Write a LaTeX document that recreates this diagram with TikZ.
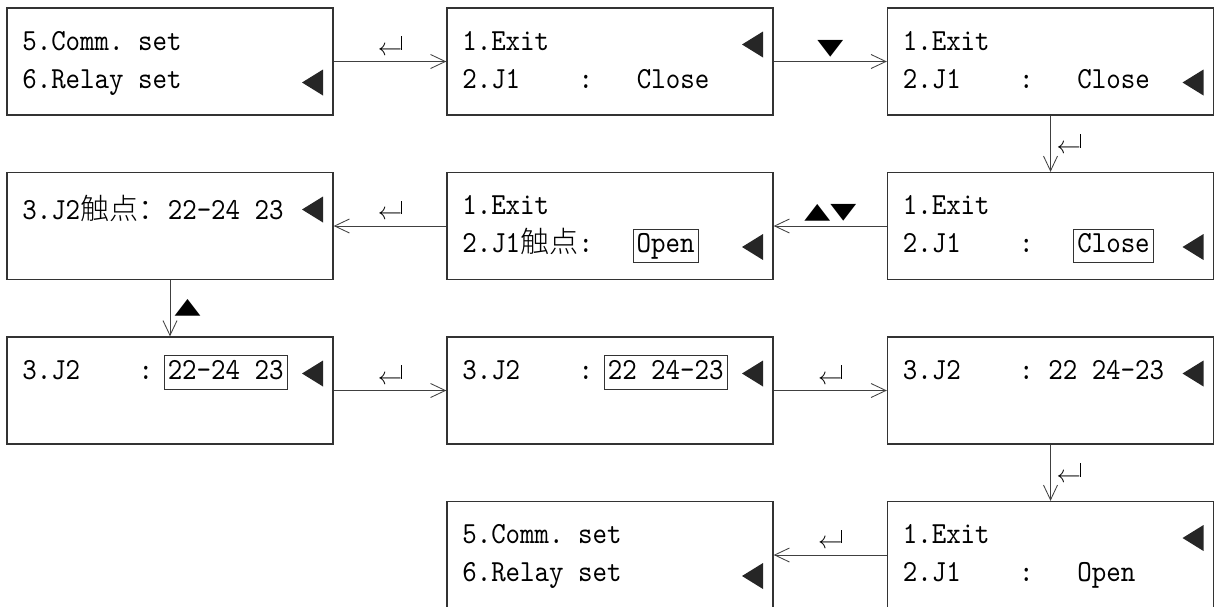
\documentclass[tikz,border=0pt]{standalone}
\usepackage{fontspec}
\usepackage{graphicx}
\newfontfamily\cjkfont{Noto Sans CJK SC Light}
\newfontfamily\symfont{DejaVu Sans}
\newfontfamily\lcdface{lmmono10-regular.otf}[FakeStretch=0.9]
\usetikzlibrary{positioning, arrows.meta}

\newcommand\lcdfont{\lcdface\fontsize{21.8}{22}\selectfont}
\newcommand\enterkey{{\fontsize{18}{18}\selectfont
  $\leftarrow$\kern-0.72pt\rule[4.14pt]{0.72pt}{9.5pt}}}
\newcommand\upkey{\scalebox{1}[0.65]{▲}}
\newcommand\downkey{\scalebox{1}[0.65]{▼}}

\begin{document}
\begin{tikzpicture}[
  x=0.025cm, y=-0.025cm,
  screen/.style={rectangle, draw=black!80, line width=0.9pt,
                 minimum width=8.15cm, minimum height=2.675cm, inner sep=0pt},
  lcd/.style={anchor=base west, inner sep=0pt, font=\lcdfont},
  cjk/.style={anchor=base west, inner sep=0pt,
              font=\cjkfont\fontsize{20.7}{21}\selectfont},
  sel/.style={anchor=base, inner xsep=2.5pt, inner ysep=0pt, draw=black!80,
              line width=0.7pt, text height=16.4pt, text depth=7.1pt,
              font=\lcdfont},
  key/.style={font=\symfont\fontsize{24}{24}\selectfont, inner sep=1pt},
  arrow/.style={-{Straight Barb[length=3.7mm, width=3.5mm]}, line width=0.6pt,
                draw=black!75},
  cursor/.pic={\fill[black!85] (0,0) -- (21,-13) -- (21,13) -- cycle;},
]
\useasboundingbox (0,0) rectangle (1214,606);

% screens
\node[screen] at (170, 61.5)    (menuA)  {};
\node[screen] at (610, 61.5)    (exitA)  {};
\node[screen] at (1050.5, 61.5) (jaSel)  {};
\node[screen] at (170, 226)     (jbView) {};
\node[screen] at (610, 226)     (jaOpen) {};
\node[screen] at (1050.5, 226)  (jaEdit) {};
\node[screen] at (170, 390.5)   (jbEdit) {};
\node[screen] at (610, 390.5)   (jbSwap) {};
\node[screen] at (1050.5, 390.5) (jbDone) {};
\node[screen] at (610, 555)     (menuB)  {};
\node[screen] at (1050.5, 555)  (exitB)  {};

% menuA
\node[lcd] at (22, 50) (menuA1) {5.Comm.\ set};
\node[lcd] at (22, 88) (menuA2) {6.Relay set};
\pic at (302, 82.5) {cursor};

% exitA
\node[lcd] at (462, 50)   (exitA1) {1.Exit};
\node[lcd] at (462, 88)   (exitA2) {2.J1};
\node[lcd] at (578.4, 88) (exitAc) {:};
\node[lcd] at (636.6, 88) (exitAv) {Close};
\pic at (742, 44.5) {cursor};

% jaSel
\node[lcd] at (902.5, 50)  (jaSel1) {1.Exit};
\node[lcd] at (902.5, 88)  (jaSel2) {2.J1};
\node[lcd] at (1018.9, 88) (jaSelc) {:};
\node[lcd] at (1077.1, 88) (jaSelv) {Close};
\pic at (1182.5, 82.5) {cursor};

% jaEdit
\node[lcd] at (902.5, 214.5)  (jaEdit1) {1.Exit};
\node[lcd] at (902.5, 252.5)  (jaEdit2) {2.J1};
\node[lcd] at (1018.9, 252.5) (jaEditc) {:};
\node[sel] at (1113.5, 252.5) (jaEditv) {Close};
\pic at (1182.5, 247) {cursor};

% jaOpen
\node[lcd] at (462, 214.5)   (jaOpen1) {1.Exit};
\node[lcd] at (462, 252.5)   (jaOpen2) {2.J1};
\node[cjk] at (520.2, 252.5) (jaOpenk) {触点};
\node[lcd] at (578.4, 252.5) (jaOpenc) {:};
\node[sel] at (665.7, 252.5) (jaOpenv) {Open};
\pic at (742, 247) {cursor};

% jbView
\node[lcd] at (22, 219.5)    (jbView1) {3.J2};
\node[cjk] at (80.2, 219.5)  (jbViewk) {触点：};
\node[lcd] at (167.5, 219.5) (jbViewv) {22-24 23};
\pic at (302, 209.5) {cursor};

% jbEdit
\node[lcd] at (22, 379)    (jbEdit1) {3.J2};
\node[lcd] at (138.4, 379) (jbEditc) {:};
\node[sel] at (225.7, 379) (jbEditv) {22-24 23};
\pic at (302, 373.5) {cursor};

% jbSwap
\node[lcd] at (462, 379)   (jbSwap1) {3.J2};
\node[lcd] at (578.4, 379) (jbSwapc) {:};
\node[sel] at (665.7, 379) (jbSwapv) {22 24-23};
\pic at (742, 373.5) {cursor};

% jbDone
\node[lcd] at (902.5, 379)  (jbDone1) {3.J2};
\node[lcd] at (1018.9, 379) (jbDonec) {:};
\node[lcd] at (1048, 379)   (jbDonev) {22 24-23};
\pic at (1182.5, 373.5) {cursor};

% exitB
\node[lcd] at (902.5, 543.5)  (exitB1) {1.Exit};
\node[lcd] at (902.5, 581.5)  (exitB2) {2.J1};
\node[lcd] at (1018.9, 581.5) (exitBc) {:};
\node[lcd] at (1077.1, 581.5) (exitBv) {Open};
\pic at (1182.5, 538) {cursor};

% menuB
\node[lcd] at (462, 543.5) (menuB1) {5.Comm.\ set};
\node[lcd] at (462, 581.5) (menuB2) {6.Relay set};
\pic at (742, 576) {cursor};

% key presses
\draw[arrow] (menuA)  -- node[key, above=3pt] {\enterkey} (exitA);
\draw[arrow] (exitA)  -- node[key, above=2pt] {\downkey} (jaSel);
\draw[arrow] (jaSel)  -- node[key, right=3pt] {\enterkey} (jaEdit);
\draw[arrow] (jaEdit) -- node[key, above=2pt] {\upkey\downkey} (jaOpen);
\draw[arrow] (jaOpen) -- node[key, above=3pt] {\enterkey} (jbView);
\draw[arrow] (jbView) -- node[key, right=2pt] {\upkey} (jbEdit);
\draw[arrow] (jbEdit) -- node[key, above=3pt] {\enterkey} (jbSwap);
\draw[arrow] (jbSwap) -- node[key, above=3pt] {\enterkey} (jbDone);
\draw[arrow] (jbDone) -- node[key, right=3pt] {\enterkey} (exitB);
\draw[arrow] (exitB)  -- node[key, above=3pt] {\enterkey} (menuB);
\end{tikzpicture}
\end{document}
